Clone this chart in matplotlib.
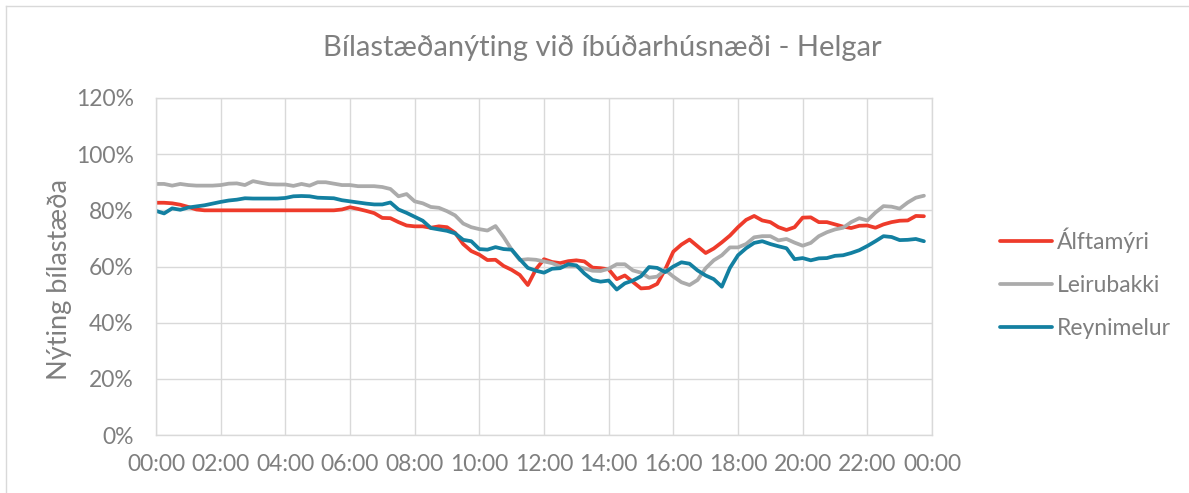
import numpy as np
import matplotlib.pyplot as plt
from matplotlib.lines import Line2D

# tími dags í klst, 15 mín bil
timar = np.arange(96) * 0.25

alftamyri = [
    82.7, 82.7, 82.5, 82.0, 81.2, 80.3, 80.0, 80.0,
    80.0, 80.0, 80.0, 80.0, 80.0, 80.0, 80.0, 80.0,
    80.0, 80.0, 80.0, 80.0, 80.0, 80.0, 80.0, 80.3,
    81.1, 80.5, 79.8, 79.0, 77.3, 77.2, 75.8, 74.6,
    74.3, 74.3, 73.8, 74.3, 74.0, 72.0, 68.0, 65.5,
    64.2, 62.3, 62.4, 60.2, 58.8, 57.0, 53.4, 59.0,
    62.6, 61.6, 61.2, 61.9, 62.2, 61.8, 59.6, 59.4,
    59.0, 55.5, 56.8, 54.5, 52.2, 52.4, 53.8, 59.0,
    65.3, 67.8, 69.6, 67.2, 64.8, 66.4, 68.6, 71.0,
    74.0, 76.6, 78.0, 76.4, 75.8, 74.0, 73.0, 74.0,
    77.4, 77.5, 75.8, 75.8, 75.0, 74.2, 73.7, 74.5,
    74.6, 73.8, 75.0, 75.8, 76.3, 76.4, 78.0, 77.9,
]

leirubakki = [
    89.4, 89.4, 88.8, 89.4, 89.0, 88.8, 88.8, 88.8,
    89.0, 89.5, 89.6, 89.0, 90.4, 89.8, 89.3, 89.2,
    89.2, 88.7, 89.4, 88.8, 90.0, 90.0, 89.5, 89.0,
    89.0, 88.6, 88.6, 88.6, 88.3, 87.6, 85.0, 85.8,
    83.2, 82.5, 81.2, 80.9, 79.7, 78.2, 75.3, 74.0,
    73.3, 72.8, 74.4, 70.5, 66.0, 62.3, 62.6, 62.4,
    61.8, 61.2, 60.0, 60.0, 60.0, 59.3, 58.5, 58.4,
    59.2, 60.8, 60.8, 58.6, 57.8, 56.0, 56.4, 58.8,
    56.4, 54.4, 53.4, 55.2, 59.4, 62.2, 64.0, 66.8,
    66.8, 68.0, 70.4, 70.8, 70.8, 69.3, 69.8, 68.5,
    67.4, 68.4, 70.8, 72.2, 73.2, 73.8, 75.8, 77.2,
    76.4, 79.2, 81.5, 81.3, 80.6, 82.8, 84.5, 85.2,
]

reynimelur = [
    79.8, 78.9, 80.7, 80.2, 81.0, 81.4, 81.8, 82.4,
    83.0, 83.5, 83.8, 84.3, 84.2, 84.2, 84.2, 84.2,
    84.4, 85.0, 85.1, 85.0, 84.5, 84.4, 84.3, 83.6,
    83.2, 82.8, 82.4, 82.1, 82.1, 82.8, 80.3, 79.1,
    77.7, 76.3, 73.7, 73.2, 72.7, 71.8, 69.5, 69.0,
    66.2, 66.0, 66.9, 66.2, 66.0, 62.6, 59.5, 58.5,
    57.8, 59.2, 59.4, 60.8, 60.4, 57.5, 55.2, 54.6,
    55.0, 51.8, 54.0, 55.0, 56.5, 59.8, 59.5, 58.0,
    60.0, 61.5, 61.0, 58.6, 56.8, 55.5, 52.8, 59.5,
    64.0, 66.5, 68.4, 69.0, 68.0, 67.2, 66.5, 62.6,
    63.0, 62.2, 62.9, 63.0, 63.8, 64.0, 64.8, 65.8,
    67.3, 69.0, 70.8, 70.5, 69.4, 69.5, 69.8, 69.0,
]

nofn = ['Álftamýri', 'Leirubakki', 'Reynimelur']
litir = ['#EE3B2B', '#ABABAB', '#1380A1']

x_tikk = np.arange(0, 25, 2)
x_merki = ['%02d:00' % (h % 24) for h in x_tikk]
y_tikk = np.arange(0, 121, 20)

texti = '#7F7F7F'
grind = '#D9D9D9'
plt.rcParams['font.family'] = ['Lato', 'DejaVu Sans']

fig = plt.figure(figsize=(11.89, 4.93), dpi=100)
ax = fig.add_axes([156/1189, 1 - 435/493, (932-156)/1189, (435-98)/493])

linur = []
for gogn, nafn, litur in zip([alftamyri, leirubakki, reynimelur], nofn, litir):
    l, = ax.plot(timar, gogn, color=litur, lw=2.7, label=nafn, solid_capstyle='round')
    linur.append(l)

ax.set_xlim(0, 24)
ax.set_ylim(0, 120)
ax.set_xticks(x_tikk)
ax.set_xticklabels(x_merki)
ax.set_yticks(y_tikk)
ax.set_yticklabels(['%d%%' % v for v in y_tikk])
ax.grid(True, color=grind, lw=1)
ax.set_axisbelow(True)
ax.tick_params(length=0, colors=texti, labelsize=16.5)
ax.tick_params(axis='y', pad=16)
ax.tick_params(axis='x', pad=14)
for s in ax.spines.values():
    s.set_color(grind)
    s.set_linewidth(1)

fig.text(602/1189, 1 - 48/493, 'Bílastæðanýting við íbúðarhúsnæði - Helgar',
         ha='center', va='center', fontsize=21, color=texti)
fig.text(60/1189, 1 - 280/493, 'Nýting bílastæða', rotation=90,
         ha='center', va='center', fontsize=19.5, color=texti)

leg = fig.legend(linur, nofn, loc='center left', bbox_to_anchor=(979/1189, 1 - 283/493),
                 frameon=False, fontsize=16.5, handlelength=2.3, handletextpad=0.2,
                 labelspacing=0.95)
for t in leg.get_texts():
    t.set_color(texti)

# rammi utan um myndina
fig.add_artist(Line2D([6/1189, 6/1189], [0, 1 - 6/493], color='#D9D9D9', lw=1))
fig.add_artist(Line2D([6/1189, 1], [1 - 6/493, 1 - 6/493], color='#D9D9D9', lw=1))

fig.savefig('out.png', dpi=100)
